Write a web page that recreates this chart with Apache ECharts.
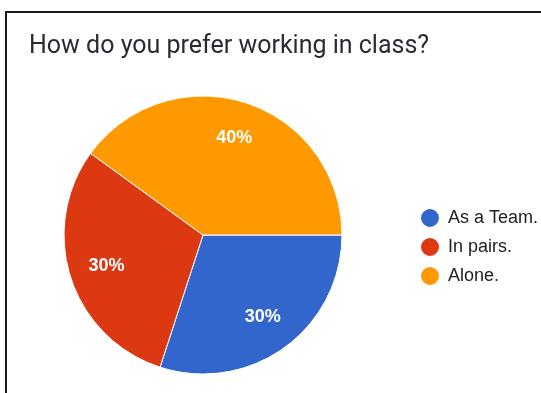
<!DOCTYPE html>
<html>
<head>
<meta charset="utf-8">
<script src="https://cdn.jsdelivr.net/npm/echarts@6/dist/echarts.min.js"></script>
<style>
  html, body { margin: 0; padding: 0; background: #fff; }
  #chart { width: 541px; height: 393px; }
</style>
</head>
<body>
<div id="chart"></div>
<script>
// Survey answers: share of responses per option
const categories = ['As a Team.', 'In pairs.', 'Alone.'];
const shares = [30, 30, 40];
const colors = ['#3366cc', '#dc3912', '#ff9900'];

const titleText = 'How do you prefer working in class?';
const labelFont = 'Arial, "Liberation Sans", sans-serif';

const data = categories.map((name, i) => ({
  name,
  value: shares[i],
  itemStyle: { color: colors[i] }
}));

const chart = echarts.init(document.getElementById('chart'), null, { renderer: 'canvas' });

chart.setOption({
  backgroundColor: '#ffffff',
  animation: false,
  title: {
    text: titleText,
    left: 29,
    top: 34,
    padding: 0,
    textStyle: {
      fontFamily: 'Roboto, Arial, sans-serif',
      fontSize: 25,
      fontWeight: 'normal',
      color: '#2b2b33'
    }
  },
  legend: {
    orient: 'vertical',
    left: 419,
    top: 207,
    padding: 0,
    itemWidth: 20,
    itemHeight: 20,
    itemGap: 7,
    icon: 'circle',
    data: categories,
    textStyle: {
      fontFamily: labelFont,
      fontSize: 18,
      color: '#222222',
      padding: [0, 0, 0, 3]
    }
  },
  graphic: [{
    type: 'polyline',
    silent: true,
    shape: { points: [[6, 393], [6, 12], [541, 12]] },
    style: { stroke: '#1a1a1a', lineWidth: 2, fill: null }
  }],
  series: [
    {
      // coloured slices
      type: 'pie',
      center: [203, 235],
      radius: 139,
      startAngle: 0,
      clockwise: true,
      label: { show: false },
      labelLine: { show: false },
      emphasis: { disabled: true },
      itemStyle: { borderColor: '#ffffff', borderWidth: 1 },
      data
    },
    {
      // ring used only to place the percentage labels further out
      type: 'pie',
      center: [203, 235],
      radius: [58, 139],
      startAngle: 0,
      clockwise: true,
      silent: true,
      legendHoverLink: false,
      emphasis: { disabled: true },
      itemStyle: { color: 'rgba(0,0,0,0)', borderWidth: 0 },
      labelLine: { show: false },
      label: {
        show: true,
        position: 'inside',
        formatter: p => Math.round(p.percent) + '%',
        color: '#ffffff',
        fontFamily: labelFont,
        fontSize: 18,
        fontWeight: 'bold'
      },
      data: categories.map((name, i) => ({ name, value: shares[i] }))
    }
  ]
});
</script>
</body>
</html>
